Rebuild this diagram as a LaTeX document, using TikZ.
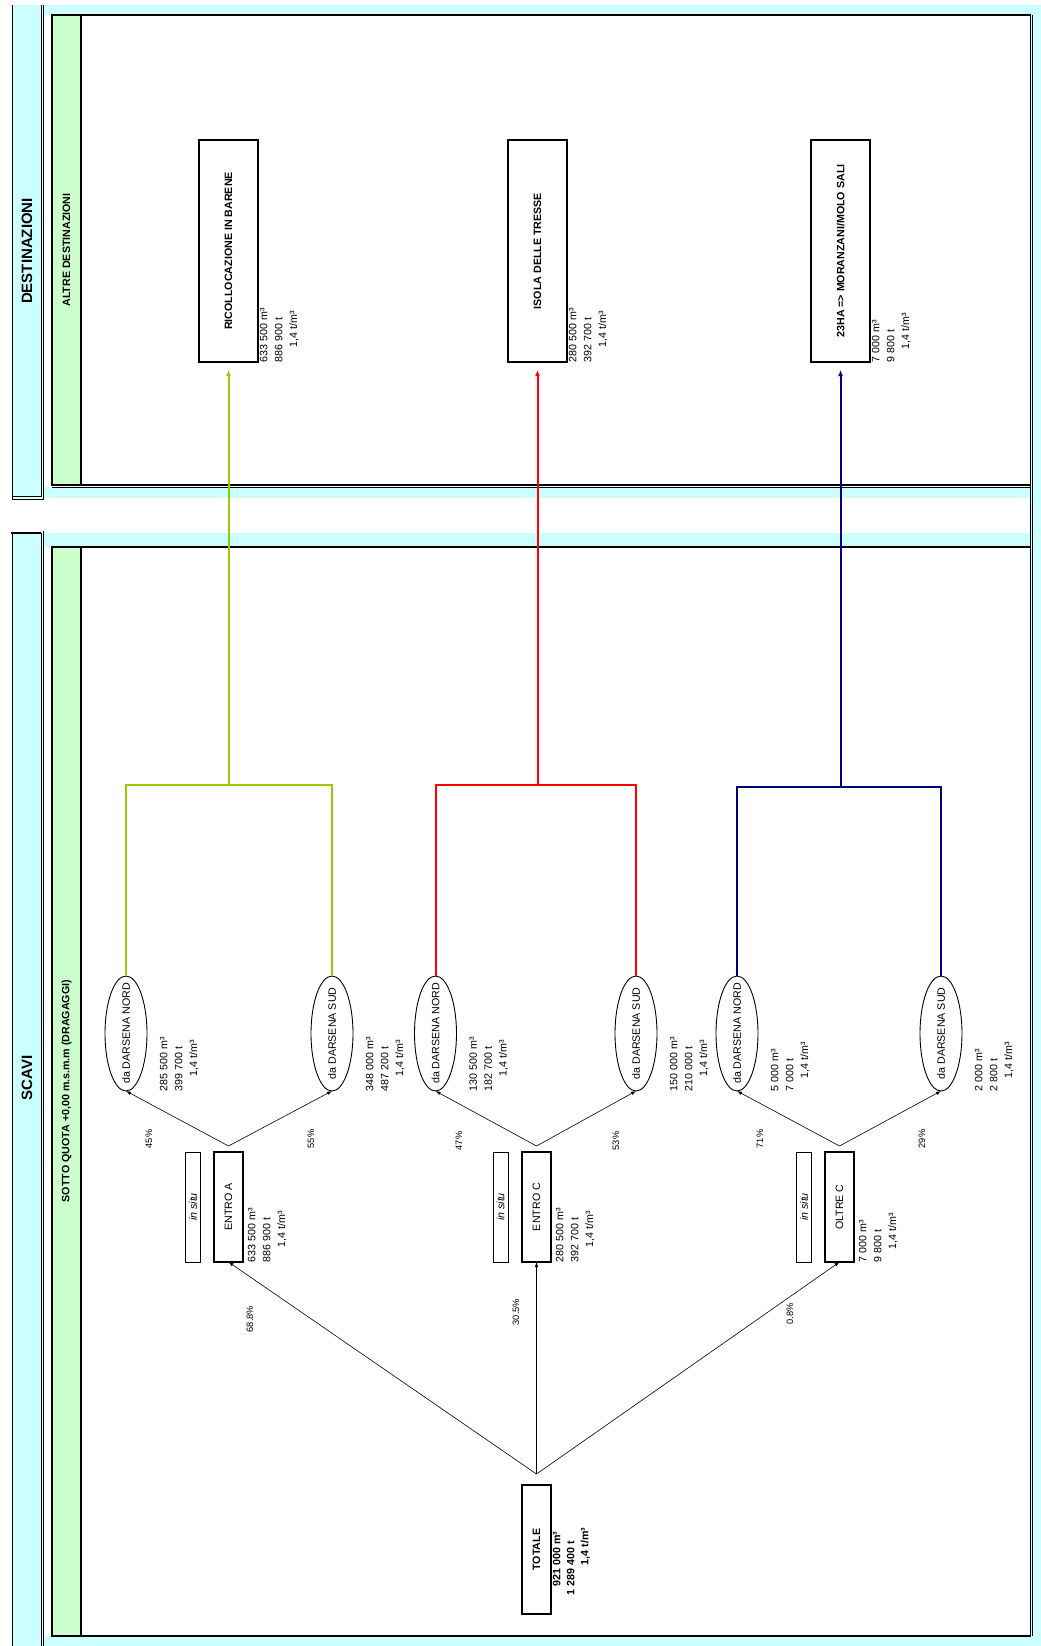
\documentclass[tikz,border=0pt]{standalone}
\usepackage{fontspec}
\setmainfont{Liberation Sans}
\usetikzlibrary{arrows.meta,shapes.geometric}

\definecolor{paleCyan}{HTML}{CCFFFF}
\definecolor{paleGreen}{HTML}{CCFFCC}
\definecolor{flowLime}{HTML}{99CC00}
\definecolor{flowRed}{HTML}{FF0000}
\definecolor{flowNavy}{HTML}{000080}

\newcommand\txtN{\fontsize{10.67}{13}\selectfont}
\newcommand\txtV{\fontsize{10.67}{14.8}\selectfont}
\newcommand\txtB{\fontsize{10.67}{13}\selectfont\bfseries}
\newcommand\txtS{\fontsize{9.3}{11}\selectfont}
\newcommand\txtL{\fontsize{15}{18}\selectfont\bfseries}

\begin{document}
\begin{tikzpicture}[x=1pt,y=-1pt,
  every node/.style={inner sep=0pt,outer sep=0pt},
  destbox/.style={draw,line width=2pt,rotate=90,minimum width=222,minimum height=59,font=\txtB},
  entrobox/.style={draw,line width=2pt,rotate=90,minimum width=110,minimum height=29,font=\txtN},
  situbox/.style={draw,line width=0.8pt,rotate=90,minimum width=110,minimum height=15,font=\txtN\itshape},
  darsena/.style={draw,ellipse,line width=0.9pt,rotate=90,minimum width=115,minimum height=42},
  rlabel/.style={rotate=90,font=\txtN},
  vals/.style={rotate=90,align=left,font=\txtV,anchor=north west},
  pct/.style={rotate=90,font=\txtS},
  arr/.style={-{Latex[length=5pt,width=3.5pt]},line width=0.6pt},
  flow/.style={line width=2pt},
  flowtip/.style={line width=2pt,-{Latex[length=6pt,width=5pt]},shorten >=8pt},
  thinrule/.style={line width=0.8pt},
  heavyrule/.style={line width=2.2pt}]

\useasboundingbox (0,0) rectangle (1041,1646);

% ---------- section backgrounds ----------
\fill[paleCyan] (12,5) rectangle (43,498);
\fill[paleCyan] (43,5) rectangle (1041,15);
\fill[paleCyan] (43,487) rectangle (1041,498);
\fill[paleCyan] (1031,5) rectangle (1041,1646);
\fill[paleCyan] (12,533) rectangle (43,1646);
\fill[paleCyan] (43,533) rectangle (1041,547);
\fill[paleCyan] (43,1636) rectangle (1041,1646);
\fill[paleGreen] (52,15) rectangle (81,485);
\fill[paleGreen] (52,547) rectangle (81,1636);

% ---------- title strips ----------
\draw[thinrule] (12,5) -- (12,499);
\draw[thinrule] (41,5) -- (41,496.5) -- (12,496.5);
\draw[thinrule] (43.5,5) -- (43.5,499) -- (12,499);
\draw[heavyrule] (11,533) -- (41,533);
\draw[thinrule] (12,533) -- (12,1646);
\draw[thinrule] (41,533) -- (41,1646);
\draw[thinrule] (43.5,531) -- (43.5,1646);

% ---------- frames ----------
\draw[heavyrule] (1031,15) -- (52,15) -- (52,485) -- (1031,485);
\draw[heavyrule] (81,15) -- (81,485);
\draw[thinrule] (52,487.5) -- (1031,487.5);
\draw[heavyrule] (1031,547) -- (52,547) -- (52,1636) -- (1031,1636);
\draw[heavyrule] (81,547) -- (81,1636);
\draw[thinrule] (1030,15) -- (1030,1636);
\draw[thinrule] (1032.5,15) -- (1032.5,1636);

% ---------- headings ----------
\node[rotate=90,font=\txtL] (tDest) at (27,251) {DESTINAZIONI};
\node[rotate=90,font=\txtL] (tScavi) at (27,1078) {SCAVI};
\node[rotate=90,font=\txtB] (tAltre) at (66.5,250) {ALTRE DESTINAZIONI};
\node[rotate=90,font=\txtB] (tSotto) at (66.5,1091) {SOTTO QUOTA +0,00 m.s.m.m (DRAGAGGI)};

% ---------- destinations ----------
\node[destbox] (d1) at (228.5,251) {RICOLLOCAZIONE IN BARENE};
\node[destbox] (d2) at (537.5,251) {ISOLA DELLE TRESSE};
\node[destbox] (d3) at (840.5,251) {23HA => MORANZANI/MOLO SALI};
\node[vals] (vd1) at ([xshift=2pt]d1.south west) {633 500 m³\\886 900 t\\\hspace*{1.4em}1,4 t/m³};
\node[vals] (vd2) at ([xshift=2pt]d2.south west) {280 500 m³\\392 700 t\\\hspace*{1.4em}1,4 t/m³};
\node[vals] (vd3) at ([xshift=2pt]d3.south west) {7 000 m³\\9 800 t\\\hspace*{1.2em}1,4 t/m³};

% ---------- darsene ----------
\node[darsena] (n1) at (126,1033.5) {};
\node[darsena] (s1) at (332,1033.5) {};
\node[darsena] (n2) at (435.5,1033.5) {};
\node[darsena] (s2) at (636,1033.5) {};
\node[darsena] (n3) at (737,1033.5) {};
\node[darsena] (s3) at (941,1033.5) {};
\node[rlabel] (n1t) at (n1) {da DARSENA NORD};
\node[rlabel] (s1t) at (s1) {da DARSENA SUD};
\node[rlabel] (n2t) at (n2) {da DARSENA NORD};
\node[rlabel] (s2t) at (s2) {da DARSENA SUD};
\node[rlabel] (n3t) at (n3) {da DARSENA NORD};
\node[rlabel] (s3t) at (s3) {da DARSENA SUD};
\node[vals] (vn1) at ([xshift=34pt]n1.west) {285 500 m³\\399 700 t\\\hspace*{1.4em}1,4 t/m³};
\node[vals] (vs1) at ([xshift=34pt]s1.west) {348 000 m³\\487 200 t\\\hspace*{1.4em}1,4 t/m³};
\node[vals] (vn2) at ([xshift=34pt]n2.west) {130 500 m³\\182 700 t\\\hspace*{1.4em}1,4 t/m³};
\node[vals] (vs2) at ([xshift=34pt]s2.west) {150 000 m³\\210 000 t\\\hspace*{1.4em}1,4 t/m³};
\node[vals] (vn3) at ([xshift=34pt]n3.west) {5 000 m³\\7 000 t\\\hspace*{1.2em}1,4 t/m³};
\node[vals] (vs3) at ([xshift=34pt]s3.west) {2 000 m³\\2 800 t\\\hspace*{1.2em}1,4 t/m³};

% ---------- areas ----------
\node[entrobox] (e1) at (228.5,1207) {ENTRO A};
\node[entrobox] (e2) at (536.5,1207) {ENTRO C};
\node[entrobox] (e3) at (839.5,1207) {OLTRE C};
\node[situbox] (i1) at (193,1207) {in situ};
\node[situbox] (i2) at (500.5,1207) {in situ};
\node[situbox] (i3) at (804,1207) {in situ};
\node[vals] (ve1) at ([xshift=5pt]e1.south west) {633 500 m³\\886 900 t\\\hspace*{1.4em}1,4 t/m³};
\node[vals] (ve2) at ([xshift=5pt]e2.south west) {280 500 m³\\392 700 t\\\hspace*{1.4em}1,4 t/m³};
\node[vals] (ve3) at ([xshift=5pt]e3.south west) {7 000 m³\\9 800 t\\\hspace*{1.2em}1,4 t/m³};

% ---------- total ----------
\node[entrobox,font=\txtB,minimum width=129] (tot) at (536.5,1549.5) {TOTALE};
\node[vals,font=\txtB\fontsize{10.67}{14}\selectfont] (vtot) at ([xshift=2pt,yshift=19pt]tot.south west)
  {\hspace*{0.8em}921 000 m³\\1 289 400 t\\\hspace*{2.8em}1,4 t/m³};

% ---------- split arrows ----------
\coordinate (a0) at (536.5,1474);
\coordinate (a1) at (228.5,1146);
\coordinate (a2) at (536.5,1146);
\coordinate (a3) at (839.5,1146);
\draw[arr] (a0) -- (e1.west);
\draw[arr] (a0) -- (e2.west);
\draw[arr] (a0) -- (e3.west);
\draw[arr] (a1) -- (n1.west);
\draw[arr] (a1) -- (s1.west);
\draw[arr] (a2) -- (n2.west);
\draw[arr] (a2) -- (s2.west);
\draw[arr] (a3) -- (n3.west);
\draw[arr] (a3) -- (s3.west);

% ---------- percentages ----------
\node[pct] (p1) at (149,1139) {45\%};
\node[pct] (p2) at (311,1139) {55\%};
\node[pct] (p3) at (459,1141) {47\%};
\node[pct] (p4) at (616,1141) {53\%};
\node[pct] (p5) at (760,1139) {71\%};
\node[pct] (p6) at (922,1139) {29\%};
\node[pct] (p7) at (250,1319) {68.8\%};
\node[pct] (p8) at (516,1312) {30.5\%};
\node[pct] (p9) at (790,1314) {0.8\%};

% ---------- routes to destinations ----------
\coordinate (j1) at (228.5,785);
\coordinate (j2) at (537.5,785);
\coordinate (j3) at (840.5,787);
\draw[flow,flowLime] (n1.east) -- (n1.east |- j1) -- (s1.east |- j1) -- (s1.east);
\draw[flowtip,flowLime] (j1) -- (d1.west);
\draw[flow,flowRed] (n2.east) -- (n2.east |- j2) -- (s2.east |- j2) -- (s2.east);
\draw[flowtip,flowRed] (j2) -- (d2.west);
\draw[flow,flowNavy] (n3.east) -- (n3.east |- j3) -- (s3.east |- j3) -- (s3.east);
\draw[flowtip,flowNavy] (j3) -- (d3.west);

\end{tikzpicture}
\end{document}
